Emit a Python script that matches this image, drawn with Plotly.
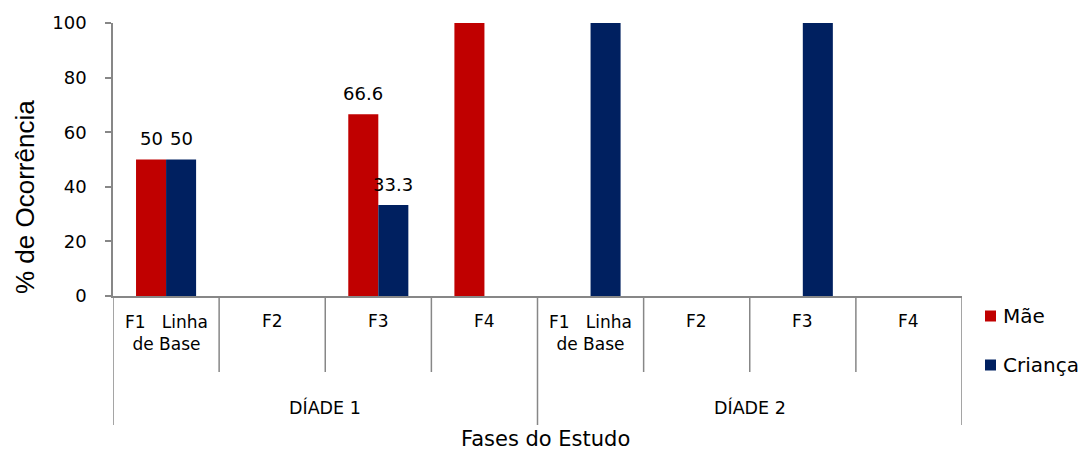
import plotly.graph_objects as go

# ---- data ----
groups = ["DÍADE 1", "DÍADE 2"]
phases = ["F1   Linha<br>de Base", "F2", "F3", "F4"]
series_names = ["Mãe", "Criança"]
mae = [50, 0, 66.6, 100, 0, 0, 0, 0]
crianca = [50, 0, 33.3, 0, 100, 0, 100, 0]
mae_labels = ["50", "", "66.6", "", "", "", "", ""]
crianca_labels = ["50", "", "33.3", "", "", "", "", ""]
y_ticks = [0, 20, 40, 60, 80, 100]

RED = "#C00000"
NAVY = "#002060"
AX = "#878787"
FONT = "DejaVu Sans, Verdana, sans-serif"

n = len(groups) * len(phases)
xs = [i + 0.5 for i in range(n)]

# plot area in screen px
FW, FH = 1082, 450
SX0, SX1, SY0, SY1 = 113, 962, 23, 296
L, T, R, B = SX0, SY0, FW - SX1, FH - SY1
PW = SX1 - SX0
PH = SY1 - SY0


def py(sy):
    return (SY1 - sy) / PH


def px(sx):
    return (sx - SX0) / PW


fig = go.Figure()
fig.add_trace(go.Bar(x=xs, y=mae, name=series_names[0],
                     marker=dict(color=RED, line=dict(width=0))))
fig.add_trace(go.Bar(x=xs, y=crianca, name=series_names[1],
                     marker=dict(color=NAVY, line=dict(width=0))))

ann = []
bw = 0.283
for i in range(n):
    if mae_labels[i]:
        ann.append(dict(x=xs[i] - bw / 2, y=mae[i], text=mae_labels[i], showarrow=False,
                        xanchor="center", yanchor="middle", yshift=21,
                        font=dict(size=18, color="#000")))
    if crianca_labels[i]:
        ann.append(dict(x=xs[i] + bw / 2, y=crianca[i], text=crianca_labels[i], showarrow=False,
                        xanchor="center", yanchor="middle", yshift=21,
                        font=dict(size=18, color="#000")))

shapes = []
for k in range(n + 1):
    is_group_edge = (k % len(phases) == 0)
    shapes.append(dict(type="line", xref="x", yref="paper", x0=k, x1=k,
                       y0=0, y1=py(425) if is_group_edge else py(372),
                       line=dict(color=AX, width=1.5)))

for g in range(len(groups)):
    for p, ph in enumerate(phases):
        i = g * len(phases) + p
        two = "<br>" in ph
        ann.append(dict(x=xs[i], xref="x", y=py(333 if two else 321), yref="paper", text=ph,
                        showarrow=False, xanchor="center", yanchor="middle",
                        font=dict(size=17, color="#000")))
    ann.append(dict(x=g * len(phases) + len(phases) / 2, xref="x", y=py(408), yref="paper",
                    text=groups[g], showarrow=False, xanchor="center", yanchor="middle",
                    font=dict(size=17.5, color="#000")))

ann.append(dict(x=px(545), xref="paper", y=py(439), yref="paper", text="Fases do Estudo",
                showarrow=False, xanchor="center", yanchor="middle",
                font=dict(size=21, color="#000")))
ann.append(dict(x=px(25), xref="paper", y=py(197), yref="paper",
                text="% de Ocorrência", textangle=-90, showarrow=False,
                xanchor="center", yanchor="middle",
                font=dict(size=26, color="#000", family="Liberation Sans, Arial, sans-serif")))

# manual legend
leg_colors = [RED, NAVY]
leg_y = [316, 365]
for name, col, ly in zip(series_names, leg_colors, leg_y):
    shapes.append(dict(type="rect", xref="paper", yref="paper",
                       x0=px(985), x1=px(996), y0=py(ly - 5.5), y1=py(ly + 5.5),
                       fillcolor=col, line=dict(width=0)))
    ann.append(dict(x=px(1001), xref="paper", y=py(ly), yref="paper", text=name,
                    showarrow=False, xanchor="left", yanchor="middle",
                    font=dict(size=20, color="#000")))

fig.update_layout(
    width=FW, height=FH,
    margin=dict(l=L, r=R, t=T, b=B, autoexpand=False),
    paper_bgcolor="white", plot_bgcolor="white",
    font=dict(family=FONT, color="#000"),
    barmode="group", bargap=0.434, bargroupgap=0,
    showlegend=False,
    xaxis=dict(range=[0, n], showticklabels=False, ticks="", showgrid=False,
               zeroline=False, showline=True, linecolor=AX, linewidth=1.5, fixedrange=True),
    yaxis=dict(range=[0, 100], tickvals=y_ticks, ticks="outside", ticklen=6, tickwidth=1.5,
               tickcolor=AX, showgrid=False, zeroline=False, showline=True, linecolor=AX,
               linewidth=1.5, tickfont=dict(size=18, color="#000"), ticklabelstandoff=15),
    annotations=ann,
    shapes=shapes,
)

fig.write_html(
    "out.html",
    config={"displayModeBar": False},
    post_script="document.documentElement.style.overflow='hidden';"
                "document.body.style.margin='0';",
)
